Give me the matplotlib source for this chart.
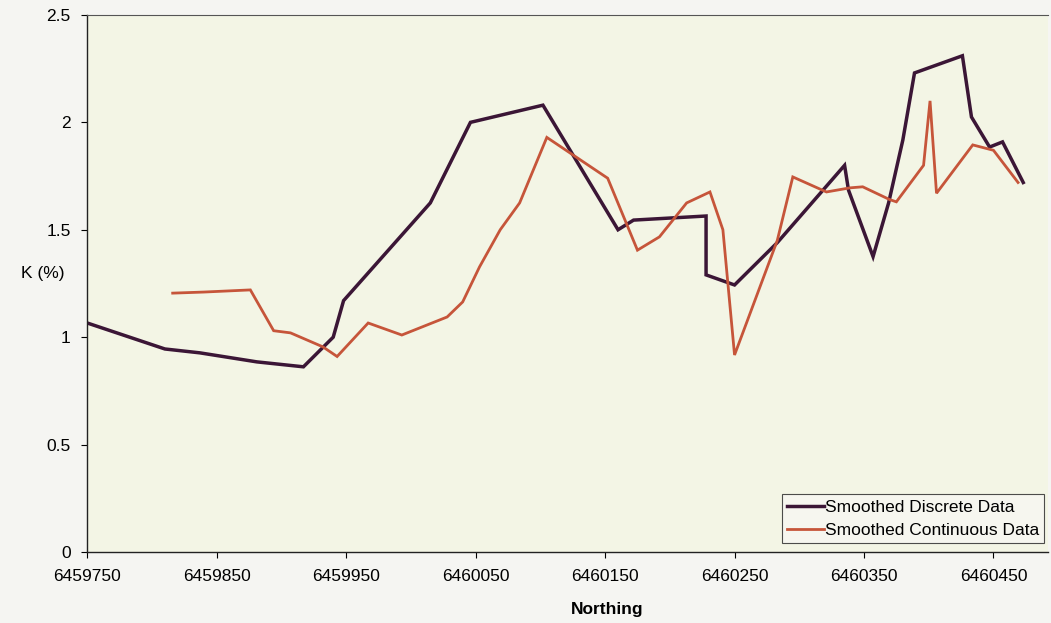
import matplotlib

matplotlib.use("Agg")
import matplotlib.pyplot as plt

plt.rcParams["font.family"] = ["Liberation Sans", "DejaVu Sans"]

# Smoothed discrete data (Northing, K %)
discrete_n = [6459750, 6459810, 6459837, 6459881, 6459917, 6459940, 6459948,
              6460015, 6460046, 6460102, 6460160, 6460172, 6460228, 6460228,
              6460250, 6460283, 6460335, 6460338, 6460357, 6460369, 6460380,
              6460389, 6460426, 6460433, 6460447, 6460457, 6460473]
discrete_k = [1.066, 0.945, 0.927, 0.885, 0.862, 1.00, 1.17,
              1.625, 2.00, 2.08, 1.50, 1.545, 1.564, 1.29,
              1.243, 1.44, 1.80, 1.685, 1.375, 1.625, 1.918,
              2.23, 2.31, 2.025, 1.885, 1.909, 1.72]

# Smoothed continuous data
cont_n = [6459816, 6459840, 6459876, 6459894, 6459907, 6459932, 6459943,
          6459967, 6459993, 6460028, 6460040, 6460053, 6460069, 6460084,
          6460105, 6460152, 6460175, 6460192, 6460213, 6460231, 6460241,
          6460250, 6460283, 6460295, 6460321, 6460339, 6460349, 6460370,
          6460375, 6460396, 6460401, 6460406, 6460434, 6460450, 6460469]
cont_k = [1.205, 1.21, 1.22, 1.03, 1.02, 0.955, 0.91,
          1.066, 1.01, 1.094, 1.164, 1.327, 1.50, 1.625,
          1.93, 1.74, 1.405, 1.467, 1.625, 1.676, 1.50,
          0.917, 1.45, 1.746, 1.676, 1.695, 1.70, 1.64,
          1.63, 1.80, 2.10, 1.67, 1.895, 1.87, 1.72]

x_ticks = [6459750, 6459850, 6459950, 6460050, 6460150, 6460250, 6460350, 6460450]
y_ticks = [0, 0.5, 1, 1.5, 2, 2.5]
y_tick_labels = ["0", "0.5", "1", "1.5", "2", "2.5"]

fig = plt.figure(figsize=(10.51, 6.23), dpi=100, facecolor="#f5f5f2")
ax = fig.add_axes([0.083, 0.114, 0.914, 0.862], facecolor="#f3f5e5")

ax.plot(discrete_n, discrete_k, color="#3b1636", lw=2.5,
        solid_joinstyle="miter", label="Smoothed Discrete Data")
ax.plot(cont_n, cont_k, color="#c6553a", lw=2.0,
        solid_joinstyle="miter", label="Smoothed Continuous Data")

ax.set_xlim(6459750, 6460492)
ax.set_ylim(0, 2.5)
ax.set_xticks(x_ticks)
ax.set_xticklabels([str(v) for v in x_ticks], fontsize=12.5)
ax.set_yticks(y_ticks)
ax.set_yticklabels(y_tick_labels, fontsize=12.5)
ax.tick_params(direction="out", length=4, width=0.8, pad=8)

ax.set_xlabel("Northing", fontsize=12.5, fontweight="bold")
ax.xaxis.set_label_coords(0.541, -0.093)
ax.set_ylabel("K (%)", fontsize=12.5, rotation=0, va="center", ha="center")
ax.yaxis.set_label_coords(-0.046, 0.519)

ax.spines["right"].set_visible(False)
ax.spines["top"].set_color("#555555")
ax.spines["top"].set_linewidth(0.8)
for s in ("left", "bottom"):
    ax.spines[s].set_color("#222222")
    ax.spines[s].set_linewidth(1.0)

leg = ax.legend(loc="lower right", bbox_to_anchor=(0.996, 0.017), fontsize=12.5,
                frameon=True, fancybox=False, handlelength=2.1,
                handletextpad=0.05, borderpad=0.3, labelspacing=0.45,
                borderaxespad=0)
leg.get_frame().set_edgecolor("#222222")
leg.get_frame().set_facecolor("#f7f7f2")
leg.get_frame().set_linewidth(0.8)

fig.savefig("out.png", dpi=100, facecolor=fig.get_facecolor())
